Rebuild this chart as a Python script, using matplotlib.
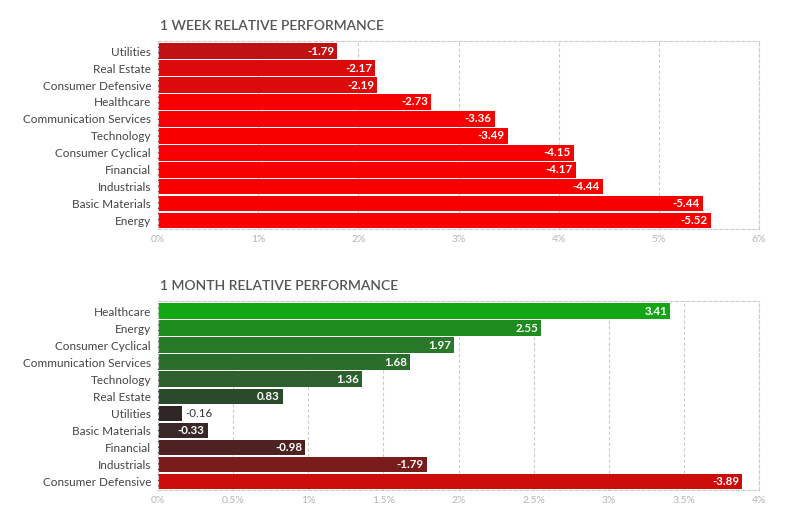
import matplotlib
matplotlib.use("Agg")
import matplotlib.pyplot as plt

plt.rcParams['font.family'] = ['Lato', 'DejaVu Sans']

# 1 week data (plotted as magnitude, labelled with sign)
week_sectors = ["Utilities", "Real Estate", "Consumer Defensive", "Healthcare",
                "Communication Services", "Technology", "Consumer Cyclical",
                "Financial", "Industrials", "Basic Materials", "Energy"]
week_values = [-1.79, -2.17, -2.19, -2.73, -3.36, -3.49, -4.15, -4.17, -4.44, -5.44, -5.52]
week_colors = ["#c01212", "#dc0a0a", "#dc0a0a", "#f80000", "#f80000", "#f80000",
               "#f80000", "#f80000", "#f80000", "#f80000", "#f80000"]
week_ticks = [0, 1, 2, 3, 4, 5, 6]
week_ticklabels = ["0%", "1%", "2%", "3%", "4%", "5%", "6%"]

# 1 month data
month_sectors = ["Healthcare", "Energy", "Consumer Cyclical", "Communication Services",
                 "Technology", "Real Estate", "Utilities", "Basic Materials",
                 "Financial", "Industrials", "Consumer Defensive"]
month_values = [3.41, 2.55, 1.97, 1.68, 1.36, 0.83, -0.16, -0.33, -0.98, -1.79, -3.89]
month_colors = ["#15a615", "#1f8c1f", "#287a28", "#2b6d2b", "#2d602d", "#2b4a2b",
                "#302626", "#3a2828", "#4e2222", "#7a1c1c", "#cc0b0b"]
month_ticks = [0, 0.5, 1, 1.5, 2, 2.5, 3, 3.5, 4]
month_ticklabels = ["0%", "0.5%", "1%", "1.5%", "2%", "2.5%", "3%", "3.5%", "4%"]

W, H = 788, 517
fig = plt.figure(figsize=(W / 100, H / 100), dpi=100)


def panel(rect, title, sectors, values, colors, ticks, ticklabels, xmax):
    ax = fig.add_axes(rect)
    n = len(sectors)
    mags = [abs(v) for v in values]
    ax.barh(range(n), mags, height=0.92, color=colors, zorder=2)
    ax.set_xlim(0, xmax)
    ax.set_ylim(n - 0.5, -0.6)
    ax.set_yticks(range(n))
    ax.set_yticklabels(sectors, fontsize=8.5, color="#444444")
    ax.set_xticks(ticks)
    ax.set_xticklabels(ticklabels, fontsize=7.5, color="#b5b5b5")
    ax.tick_params(length=0, pad=4)
    ax.tick_params(axis="y", pad=5)
    ax.grid(axis="x", color="#cccccc", linestyle=(0, (3, 2)), linewidth=0.8, zorder=0)
    for s in ax.spines.values():
        s.set_color("#cccccc")
        s.set_linestyle((0, (3, 2)))
        s.set_linewidth(0.8)
    px_per_unit = rect[2] * W / xmax
    for i, (v, m) in enumerate(zip(values, mags)):
        txt = f"{v:.2f}"
        if m * px_per_unit > 32:
            ax.text(m - 3 / px_per_unit, i, txt, ha="right", va="center",
                    fontsize=8.3, fontweight="bold", color="white", zorder=3)
        else:
            ax.text(m + 3 / px_per_unit, i, txt, ha="left", va="center",
                    fontsize=8.3, color="#333333", zorder=3)
    fig.text(rect[0] + 2 / W, rect[1] + rect[3] + 11.5 / H, title, fontsize=10,
             fontweight="semibold", color="#555555", va="baseline", ha="left")
    return ax


panel([158 / W, (H - 229) / H, 601 / W, 188 / H], "1 WEEK RELATIVE PERFORMANCE",
      week_sectors, week_values, week_colors, week_ticks, week_ticklabels, 6)
panel([158 / W, (H - 490) / H, 601 / W, 189 / H], "1 MONTH RELATIVE PERFORMANCE",
      month_sectors, month_values, month_colors, month_ticks, month_ticklabels, 4)

fig.savefig("out.png", dpi=100)
